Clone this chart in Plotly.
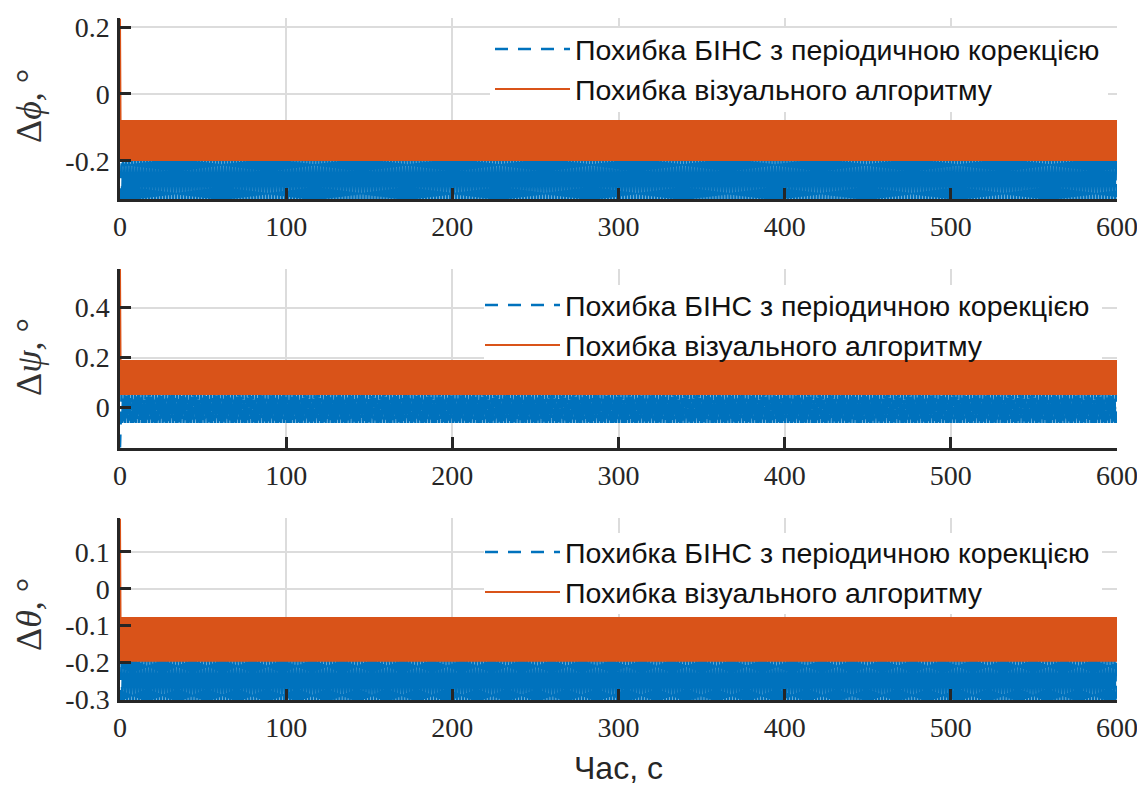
import numpy as np
import plotly.graph_objects as go

# ---------------- data ----------------
time_start_s = 0
time_end_s = 600
sample_step_s = 0.45
x_ticks = [0, 100, 200, 300, 400, 500, 600]

series_names = ["Похибка БІНС з періодичною корекцією", "Похибка візуального алгоритму"]

# Δφ  (top)
phi_ins_initial = [-0.31]
phi_ins_band = [-0.195, -0.315]      # alternating peak / trough of the oscillation
phi_vis_initial = [0.225]
phi_vis_band = [-0.078, -0.2]
phi_ticks = [-0.2, 0, 0.2]
phi_ticktext = ["-0.2", "0", "0.2"]
phi_range = [-0.314, 0.227]

# Δψ  (middle)
psi_ins_initial = [-0.16]
psi_ins_band = [0.05, -0.062]
psi_vis_initial = [0.555]
psi_vis_band = [0.19, 0.05]
psi_ticks = [0, 0.2, 0.4]
psi_ticktext = ["0", "0.2", "0.4"]
psi_range = [-0.162, 0.555]

# Δθ  (bottom)
theta_ins_initial = [-0.3]
theta_ins_band = [-0.195, -0.305]
theta_vis_initial = [0.19]
theta_vis_band = [-0.077, -0.198]
theta_ticks = [-0.3, -0.2, -0.1, 0, 0.1]
theta_ticktext = ["-0.3", "-0.2", "-0.1", "0", "0.1"]
theta_range = [-0.302, 0.192]

# ---------------- figure ----------------
t = np.arange(time_start_s, time_end_s + sample_step_s / 2, sample_step_s)


def build(initial, band):
    y = np.resize(np.array(band, dtype=float), t.size)
    y[: len(initial)] = initial
    return y


BLUE = "#0072BD"
ORANGE = "#D95319"
INK = "#262626"
SERIF = "Liberation Serif, Times New Roman, serif"
SANS = "Arial, Liberation Sans, sans-serif"
DASH = "13px,10px"

panels = [
    (phi_ins_initial, phi_ins_band, phi_vis_initial, phi_vis_band, phi_ticks, phi_ticktext, phi_range,
     [0.7346, 1.0], "Δ<i>ϕ</i>, °", 106),
    (psi_ins_initial, psi_ins_band, psi_vis_initial, psi_vis_band, psi_ticks, psi_ticktext, psi_range,
     [0.3695, 0.632], "Δ<i>ψ</i>, °", 357),
    (theta_ins_initial, theta_ins_band, theta_vis_initial, theta_vis_band, theta_ticks, theta_ticktext,
     theta_range, [0.0, 0.2669], "Δ<i>θ</i>, °", 615),
]

# target page-pixel geometry (the page body has an 8 px margin)
PAGE_OFF = 8
PLOT_TOP, PLOT_BOTTOM, PLOT_LEFT, PLOT_RIGHT = 18, 700, 120, 1117
FIG_W, FIG_H = 1145 - PAGE_OFF, 789 - PAGE_OFF


def py(px):
    return (PLOT_BOTTOM - px) / (PLOT_BOTTOM - PLOT_TOP)


def pxx(px):
    return (px - PLOT_LEFT) / (PLOT_RIGHT - PLOT_LEFT)


fig = go.Figure()
annotations = []
shapes = []
legend_pos = [(pxx(490), py(24)), (pxx(480), py(280)), (pxx(480), py(527))]
# white legend backgrounds (page pixels: left, top, right, bottom) - drawn above grid, below data
legend_boxes = [(490, 28, 1108, 112), (484, 285, 1102, 362), (484, 533, 1102, 614)]

for i, (ins0, insb, vis0, visb, yt, ytt, yr, dom, ylabel, ylab_y) in enumerate(panels):
    n = i + 1
    xa = "x" if n == 1 else f"x{n}"
    ya = "y" if n == 1 else f"y{n}"
    lg = "legend" if n == 1 else f"legend{n}"
    fig.add_trace(go.Scatter(x=t, y=build(ins0, insb), mode="lines", name=series_names[0],
                             line=dict(color=BLUE, width=2.5, dash=DASH),
                             xaxis=xa, yaxis=ya, legend=lg))
    fig.add_trace(go.Scatter(x=t, y=build(vis0, visb), mode="lines", name=series_names[1],
                             line=dict(color=ORANGE, width=2),
                             xaxis=xa, yaxis=ya, legend=lg))
    xkey = "xaxis" if n == 1 else f"xaxis{n}"
    ykey = "yaxis" if n == 1 else f"yaxis{n}"
    fig.update_layout(**{
        xkey: dict(domain=[0, 1], anchor=ya, range=[time_start_s, time_end_s],
                   tickvals=x_ticks, ticktext=[str(v) for v in x_ticks], automargin=False,
                   ticks="inside", ticklen=11, tickwidth=2.5, tickcolor=INK,
                   showline=True, linecolor=INK, linewidth=2.5,
                   showgrid=True, gridcolor="#dcdcdc", gridwidth=2, zeroline=False,
                   tickfont=dict(family=SERIF, size=28, color=INK), ticklabelstandoff=1),
        ykey: dict(domain=dom, anchor=xa, range=yr, tickvals=yt, ticktext=ytt, automargin=False,
                   ticks="inside", ticklen=11, tickwidth=2.5, tickcolor=INK,
                   showline=True, linecolor=INK, linewidth=2.5,
                   showgrid=True, gridcolor="#dcdcdc", gridwidth=2, zeroline=False,
                   tickfont=dict(family=SERIF, size=28, color=INK), ticklabelstandoff=2),
        lg: dict(x=legend_pos[i][0], y=legend_pos[i][1], xanchor="left", yanchor="top",
                 bgcolor="rgba(255,255,255,0)", borderwidth=0,
                 font=dict(family=SANS, size=28.5, color="#111"),
                 itemwidth=75, traceorder="normal"),
    })

    # legend background box, converted from page pixels to this subplot's axis units
    def to_x(px):
        return time_start_s + pxx(px) * (time_end_s - time_start_s)

    def to_y(px, dom=dom, yr=yr):
        frac = (py(px) - dom[0]) / (dom[1] - dom[0])
        return yr[0] + frac * (yr[1] - yr[0])

    bx0, by0, bx1, by1 = legend_boxes[i]
    shapes.append(dict(type="rect", layer="between", xref=xa, yref=ya,
                       x0=to_x(bx0), x1=to_x(bx1), y0=to_y(by1), y1=to_y(by0),
                       fillcolor="white", line=dict(width=0)))
    annotations.append(dict(text=ylabel, xref="paper", yref="paper", x=pxx(29),
                            y=py(ylab_y), xanchor="center", yanchor="middle",
                            textangle=-90, showarrow=False,
                            font=dict(family=SERIF, size=36, color="#333")))

annotations.append(dict(text="Час, с", xref="paper", yref="paper", x=pxx(618), y=py(768),
                        xanchor="center", yanchor="middle", showarrow=False,
                        font=dict(family=SANS, size=32, color=INK)))

fig.update_layout(width=FIG_W, height=FIG_H,
                  margin=dict(l=PLOT_LEFT - PAGE_OFF, r=1145 - PLOT_RIGHT,
                              t=PLOT_TOP - PAGE_OFF, b=789 - PLOT_BOTTOM),
                  plot_bgcolor="white", paper_bgcolor="white", annotations=annotations,
                  shapes=shapes, showlegend=True)

fig.write_html("out.html")
